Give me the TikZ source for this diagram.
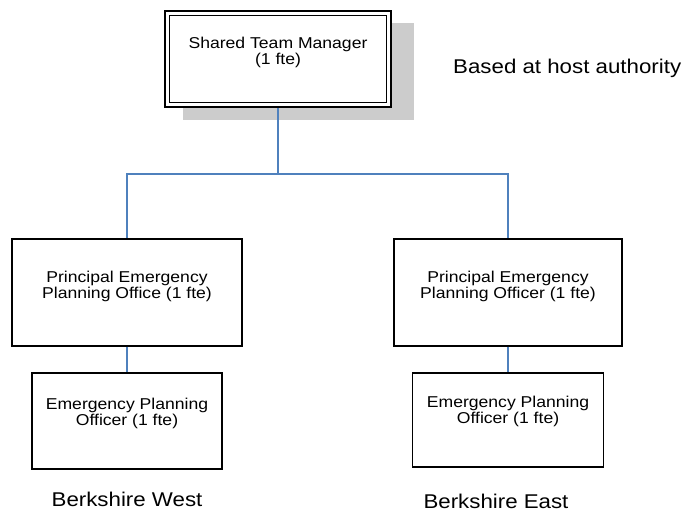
\documentclass[tikz,border=0pt]{standalone}
\usepackage{fontspec}
\setmainfont{Liberation Sans}[FakeStretch=1.12]
\definecolor{linkblue}{RGB}{79,129,189}
\definecolor{shadowgray}{RGB}{204,204,204}
\newcommand\orgboxfont{\fontsize{15.7}{16}\selectfont}
\newcommand\orglabfont{\fontsize{19.9}{21}\selectfont}
\begin{document}
\begin{tikzpicture}[x=1pt,y=-1pt,
  orgbox/.style={draw=black, line width=1.1pt, fill=white, inner sep=0pt},
  boxtext/.style={align=center, font=\orgboxfont, inner sep=0pt},
  link/.style={draw=linkblue, line width=1.2pt},
  lab/.style={font=\orglabfont, inner sep=0pt}]
\useasboundingbox (0,0) rectangle (682,511);
% shadow and top box
\node[fill=shadowgray, minimum width=231pt, minimum height=97pt, inner sep=0pt] (shadow) at (298.5,71.5) {};
\node[orgbox, line width=2pt, minimum width=226pt, minimum height=96pt] (top) at (278,59) {};
\node[draw=black, line width=0.9pt, minimum width=217pt, minimum height=87pt, inner sep=0pt] (topinner) at (278,59) {};
\node[boxtext] (toptext) at (278,52) {Shared Team Manager\\(1 fte)};
\node[lab, anchor=west] (host) at (453,68) {Based at host authority};
% middle boxes
\node[orgbox, minimum width=230pt, minimum height=107pt] (m1) at (127,292.5) {};
\node[boxtext] (m1text) at (127,286.5) {Principal Emergency\\Planning Office (1 fte)};
\node[orgbox, minimum width=228pt, minimum height=107pt] (m2) at (508,292.5) {};
\node[boxtext] (m2text) at (508,286.5) {Principal Emergency\\Planning Officer (1 fte)};
% lower boxes
\node[orgbox, minimum width=190pt, minimum height=96pt] (l1) at (127,421) {};
\node[boxtext] (l1text) at (127,413.5) {Emergency Planning\\Officer (1 fte)};
\node[orgbox, minimum width=191pt, minimum height=94pt] (l2) at (508,420) {};
\node[boxtext] (l2text) at (508,411) {Emergency Planning\\Officer (1 fte)};
% labels
\node[lab] (west) at (127,499) {Berkshire West};
\node[lab] (east) at (496,501) {Berkshire East};
% connectors
\coordinate (j) at (278,174);
\draw[link] (top.south) -- (j);
\draw[link] (j) -| (m1.north);
\draw[link] (j) -| (m2.north);
\draw[link] (m1.south) -- (l1.north);
\draw[link] (m2.south) -- (l2.north);
\end{tikzpicture}
\end{document}
